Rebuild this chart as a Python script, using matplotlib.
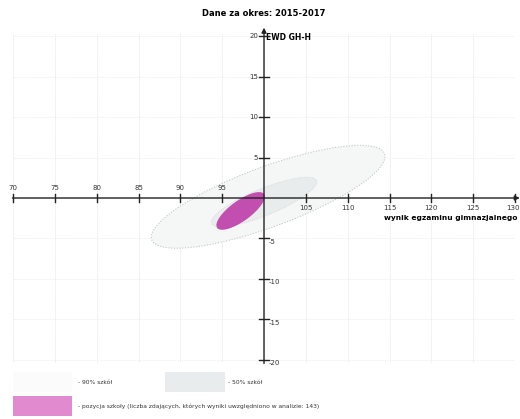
import matplotlib
matplotlib.use('Agg')
import matplotlib.pyplot as plt
from matplotlib.patches import Ellipse, Rectangle

# axis ticks
xticks = [70, 75, 80, 85, 90, 95, 100, 105, 110, 115, 120, 125, 130]
yticks = [-20, -15, -10, -5, 0, 5, 10, 15, 20]

# ellipses: center x, center y, width, height, angle
ell_90 = (100.5, 0.15, 29.8, 7.4, 21)
ell_50 = (100.0, -0.5, 13.6, 3.3, 23)
ell_school = (97.2, -1.6, 7.0, 2.5, 37)

title = 'Dane za okres: 2015-2017'
ylabel = 'EWD GH-H'
xlabel = 'wynik egzaminu gimnazjalnego'
legend_labels = ['- 90% szkół', '- 50% szkół',
                 '- pozycja szkoły (liczba zdających, których wyniki uwzględniono w analizie: 143)']

c90 = '#f5f6f6'
c50 = '#e9eced'
cschool = '#c24eaf'
cschool_leg = '#e28ad0'

W, H = 520, 419
fig = plt.figure(figsize=(W / 100, H / 100), dpi=100)
ax = fig.add_axes([13 / W, (H - 363) / H, 502 / W, 330 / H])
ax.set_xlim(70, 130)
ax.set_ylim(-20.4, 20.4)
ax.axis('off')

# grid
for x in xticks:
    ax.plot([x, x], [-20.4, 20.4], color='#e2e2e2', lw=0.6, ls=(0, (1, 1)), zorder=0)
for y in yticks:
    ax.plot([70, 130], [y, y], color='#eaeaea', lw=0.6, ls=(0, (1, 1)), zorder=0)

# ellipses
cx, cy, w, h, a = ell_90
ax.add_patch(Ellipse((cx, cy), w, h, angle=a, facecolor=c90, edgecolor='#c4c8c8',
                     ls=(0, (1, 1.5)), lw=0.8, zorder=1))
cx, cy, w, h, a = ell_50
ax.add_patch(Ellipse((cx, cy), w, h, angle=a, facecolor=c50, edgecolor='#d0d4d4',
                     ls=(0, (1, 1.5)), lw=0.6, zorder=2))
cx, cy, w, h, a = ell_school
ax.add_patch(Ellipse((cx, cy), w, h, angle=a, facecolor=cschool, edgecolor='none', zorder=3))

# axes with arrows
ax.annotate('', xy=(130.9, 0), xytext=(69.6, 0), annotation_clip=False,
            arrowprops=dict(arrowstyle='-|>', color='#222222', lw=1.0, mutation_scale=7))
ax.annotate('', xy=(100, 21.4), xytext=(100, -20.8), annotation_clip=False,
            arrowprops=dict(arrowstyle='-|>', color='#222222', lw=1.0, mutation_scale=7))

# ticks and tick labels
for x in xticks:
    if x == 100:
        continue
    ax.plot([x, x], [-0.55, 0.55], color='#222222', lw=1.0, clip_on=False, zorder=4)
    xl = min(x, 129.7)
    if x < 100:
        ax.text(xl, 0.85, str(x), ha='center', va='bottom', fontsize=5, color='#333333')
    else:
        ax.text(xl, -0.85, str(x), ha='center', va='top', fontsize=5, color='#333333')
for y in yticks:
    if y == 0:
        continue
    ax.plot([99.45, 100.55], [y, y], color='#222222', lw=1.0, clip_on=False, zorder=4)
    if y > 0:
        ax.text(99.3, y, str(y), ha='right', va='center', fontsize=5, color='#333333')
    else:
        ax.text(100.5, y - 0.4, str(y), ha='left', va='center', fontsize=5, color='#333333')

ax.text(100.2, 19.8, ylabel, ha='left', va='center', fontsize=5.5, fontweight='bold')
ax.text(114.3, -2.5, xlabel, ha='left', va='center', fontsize=5.4, fontweight='bold')
fig.text(264 / W, 1 - 13 / H, title, ha='center', va='center', fontsize=6, fontweight='bold')

# legend
fig.patches.append(Rectangle((13 / W, 1 - 392 / H), 59 / W, 20 / H, transform=fig.transFigure,
                             facecolor='#fbfbfb', edgecolor='none'))
fig.patches.append(Rectangle((165 / W, 1 - 392 / H), 60 / W, 20 / H, transform=fig.transFigure,
                             facecolor=c50, edgecolor='none'))
fig.patches.append(Rectangle((13 / W, 1 - 416 / H), 59 / W, 20 / H, transform=fig.transFigure,
                             facecolor=cschool_leg, edgecolor='none'))
fig.text(78 / W, 1 - 382 / H, legend_labels[0], ha='left', va='center', fontsize=4.3, color='#333333')
fig.text(228 / W, 1 - 382 / H, legend_labels[1], ha='left', va='center', fontsize=4.3, color='#333333')
fig.text(78 / W, 1 - 406 / H, legend_labels[2], ha='left', va='center', fontsize=4.3, color='#333333')

fig.savefig('out.png', dpi=100)
